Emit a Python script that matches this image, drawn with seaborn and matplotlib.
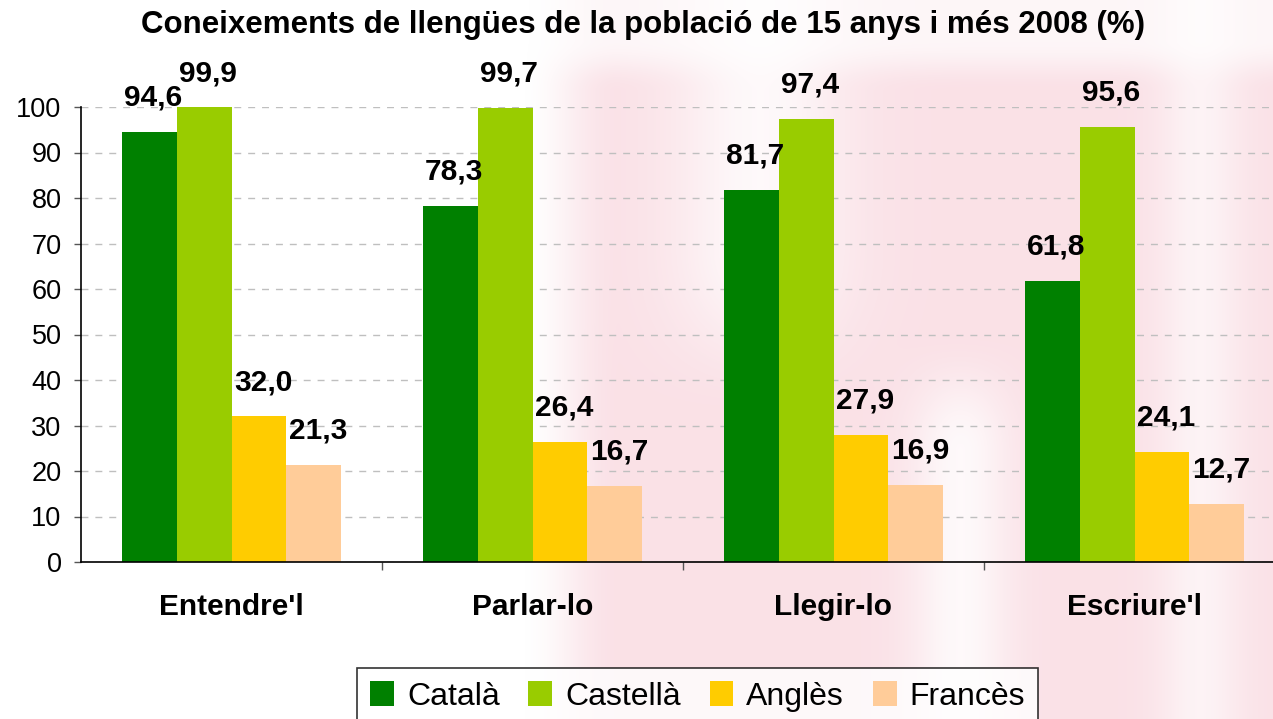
import matplotlib
matplotlib.use("Agg")
import matplotlib.pyplot as plt
import seaborn as sns
import pandas as pd
import numpy as np
from matplotlib.ticker import FixedLocator
from matplotlib.patches import Patch

categories = ["Entendre'l", "Parlar-lo", "Llegir-lo", "Escriure'l"]
languages = ["Català", "Castellà", "Anglès", "Francès"]
catala = [94.6, 78.3, 81.7, 61.8]
castella = [99.9, 99.7, 97.4, 95.6]
angles = [32.0, 26.4, 27.9, 24.1]
frances = [21.3, 16.7, 16.9, 12.7]
colors = ["#008000", "#99CC00", "#FFCC00", "#FFCC99"]
title = "Coneixements de llengües de la població de 15 anys i més 2008 (%)"

series = [catala, castella, angles, frances]
rows = []
for lang, vals in zip(languages, series):
    for cat, v in zip(categories, vals):
        rows.append({"cat": cat, "lang": lang, "val": v})
df = pd.DataFrame(rows)

sns.set_theme(style="white")
plt.rcParams['font.family'] = ['Liberation Sans', 'DejaVu Sans']
plt.rcParams['text.color'] = 'black'
plt.rcParams['xtick.color'] = 'black'
plt.rcParams['ytick.color'] = 'black'

fig = plt.figure(figsize=(12.73, 7.19), dpi=100)

# faint decorative pink watermark background
bg = fig.add_axes([0, 0, 1, 1], zorder=-5)
W, H = 1273, 719
xx, yy = np.meshgrid(np.arange(W), np.arange(H))
def sstep(v, a, b):
    t = np.clip((v - a) / (b - a), 0, 1)
    return t * t * (3 - 2 * t)
alpha = sstep(xx, 520, 620) * 0.7
alpha *= 1 - 0.8 * np.exp(-((xx - 760) ** 2) / (2 * 60 ** 2)) * sstep(-yy, -420, -250)
alpha *= 1 - 0.8 * np.exp(-((xx - 960) ** 2) / (2 * 35 ** 2)) * sstep(yy, 330, 450)
alpha *= 1 - 0.6 * np.exp(-((xx - 1200) ** 2) / (2 * 30 ** 2))
alpha *= 1 - 0.7 * sstep(-yy, -90, -40)
img = np.ones((H, W, 4))
img[..., 0] = 248 / 255
img[..., 1] = 212 / 255
img[..., 2] = 220 / 255
img[..., 3] = alpha
bg.imshow(img, aspect="auto", extent=(0, 1, 0, 1), origin="upper")
bg.set_axis_off()

ax = fig.add_axes([81/1273, 157/719, 1204/1273, 455/719])
ax.set_facecolor("none")

sns.barplot(data=df, x="cat", y="val", hue="lang", order=categories,
            hue_order=languages, palette=colors, width=0.73, saturation=1,
            ax=ax, legend=False, edgecolor="none", linewidth=0)

ax.set_xlim(-0.5, 3.5)
ax.set_ylim(0, 100)
ax.set_yticks(range(0, 101, 10))
ax.yaxis.grid(True, linestyle=(0, (5, 5)), color="#BFBFBF", linewidth=1)
ax.set_axisbelow(True)
for s in ["top", "right"]:
    ax.spines[s].set_visible(False)
for s in ["left", "bottom"]:
    ax.spines[s].set_color("black")
    ax.spines[s].set_linewidth(1.2)

ax.tick_params(axis="y", direction="out", length=5, width=1, color="#555555",
               pad=9, labelsize=19.5, left=True)
ax.tick_params(axis="x", which="major", length=0, pad=22, labelsize=21.5)
ax.xaxis.set_minor_locator(FixedLocator([0.5, 1.5, 2.5]))
ax.tick_params(axis="x", which="minor", direction="out", length=6, width=1,
               color="#555555", bottom=True)
for lbl in ax.get_xticklabels():
    lbl.set_fontweight("bold")
ax.set_xlabel("")
ax.set_ylabel("")

for cont in ax.containers:
    for bar in cont:
        h = bar.get_height()
        ax.annotate(f"{h:.1f}".replace(".", ","),
                    (bar.get_x() + bar.get_width() / 2, h),
                    xytext=(3, 19), textcoords="offset points",
                    ha="center", va="baseline", fontsize=21.5,
                    fontweight="bold", annotation_clip=False)

fig.text(0.505, 0.965, title, ha="center", va="center", fontsize=22.5,
         fontweight="bold")

handles = [Patch(facecolor=c, edgecolor="none") for c in colors]
leg = fig.legend(handles, languages, loc="upper center",
                 bbox_to_anchor=(0.548, 0.071), ncol=4, fontsize=23,
                 frameon=True, fancybox=False, edgecolor="black",
                 handlelength=0.75, handleheight=0.85, handletextpad=0.4,
                 columnspacing=0.9, borderpad=0.4, borderaxespad=0)
leg.get_frame().set_linewidth(1.2)
leg.get_frame().set_facecolor("white")

fig.savefig("out.png", dpi=100)
